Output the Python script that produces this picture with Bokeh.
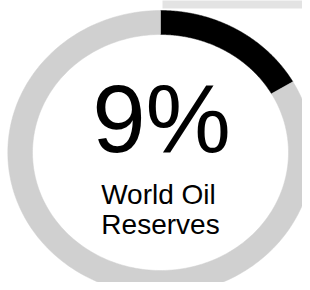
import numpy as np
from bokeh.plotting import figure
from bokeh.models import Range1d, ColumnDataSource, BoxAnnotation
from bokeh.core.properties import value
from bokeh.embed import file_html
from bokeh.resources import INLINE

# Data
segments = ["World Oil Reserves", "Rest"]
shares = [16.7, 83.3]          # share of the ring drawn (read from arc span)
colors = ["#000000", "#d0d0d0"]
big_label = "9%"
sub_label_lines = ["World Oil", "Reserves"]

# Ring geometry (pixels)
RX_O, RY_O = 152.7, 142.0
RX_I, RY_I = 128.0, 118.0

p = figure(width=302, height=282, output_backend="svg", toolbar_location=None,
           x_range=Range1d(-160, 142), y_range=Range1d(-130, 152),
           min_border=0, outline_line_color=None)
p.axis.visible = False
p.grid.visible = False
p.background_fill_color = "white"
p.border_fill_color = "white"

# light grey strip at the top right
p.add_layout(BoxAnnotation(left=2, right=160, bottom=144, top=160,
                           fill_color="#e3e3e3", fill_alpha=1.0, line_color=None))

xs, ys = [], []
start = np.pi / 2
total = sum(shares)
for s in shares:
    end = start - 2 * np.pi * s / total
    t = np.linspace(start, end, 200)
    ox, oy = RX_O * np.cos(t), RY_O * np.sin(t)
    ix, iy = RX_I * np.cos(t[::-1]), RY_I * np.sin(t[::-1])
    xs.append(list(np.concatenate([ox, ix])))
    ys.append(list(np.concatenate([oy, iy])))
    start = end

src = ColumnDataSource(dict(xs=xs, ys=ys, color=colors, name=segments))
p.patches("xs", "ys", source=src, fill_color="color", line_color="color", line_width=0.5)

font = value("Liberation Sans")
p.text(x=[1], y=[34], text=[big_label], text_font=font, text_font_size="96px",
       text_align="center", text_baseline="alphabetic", text_color="black")
p.text(x=[-2, 0], y=[-42, -72], text=sub_label_lines, text_font=font,
       text_font_size="28px", text_align="center", text_baseline="alphabetic",
       text_color="black")

open("out.html", "w").write(file_html(p, INLINE))
